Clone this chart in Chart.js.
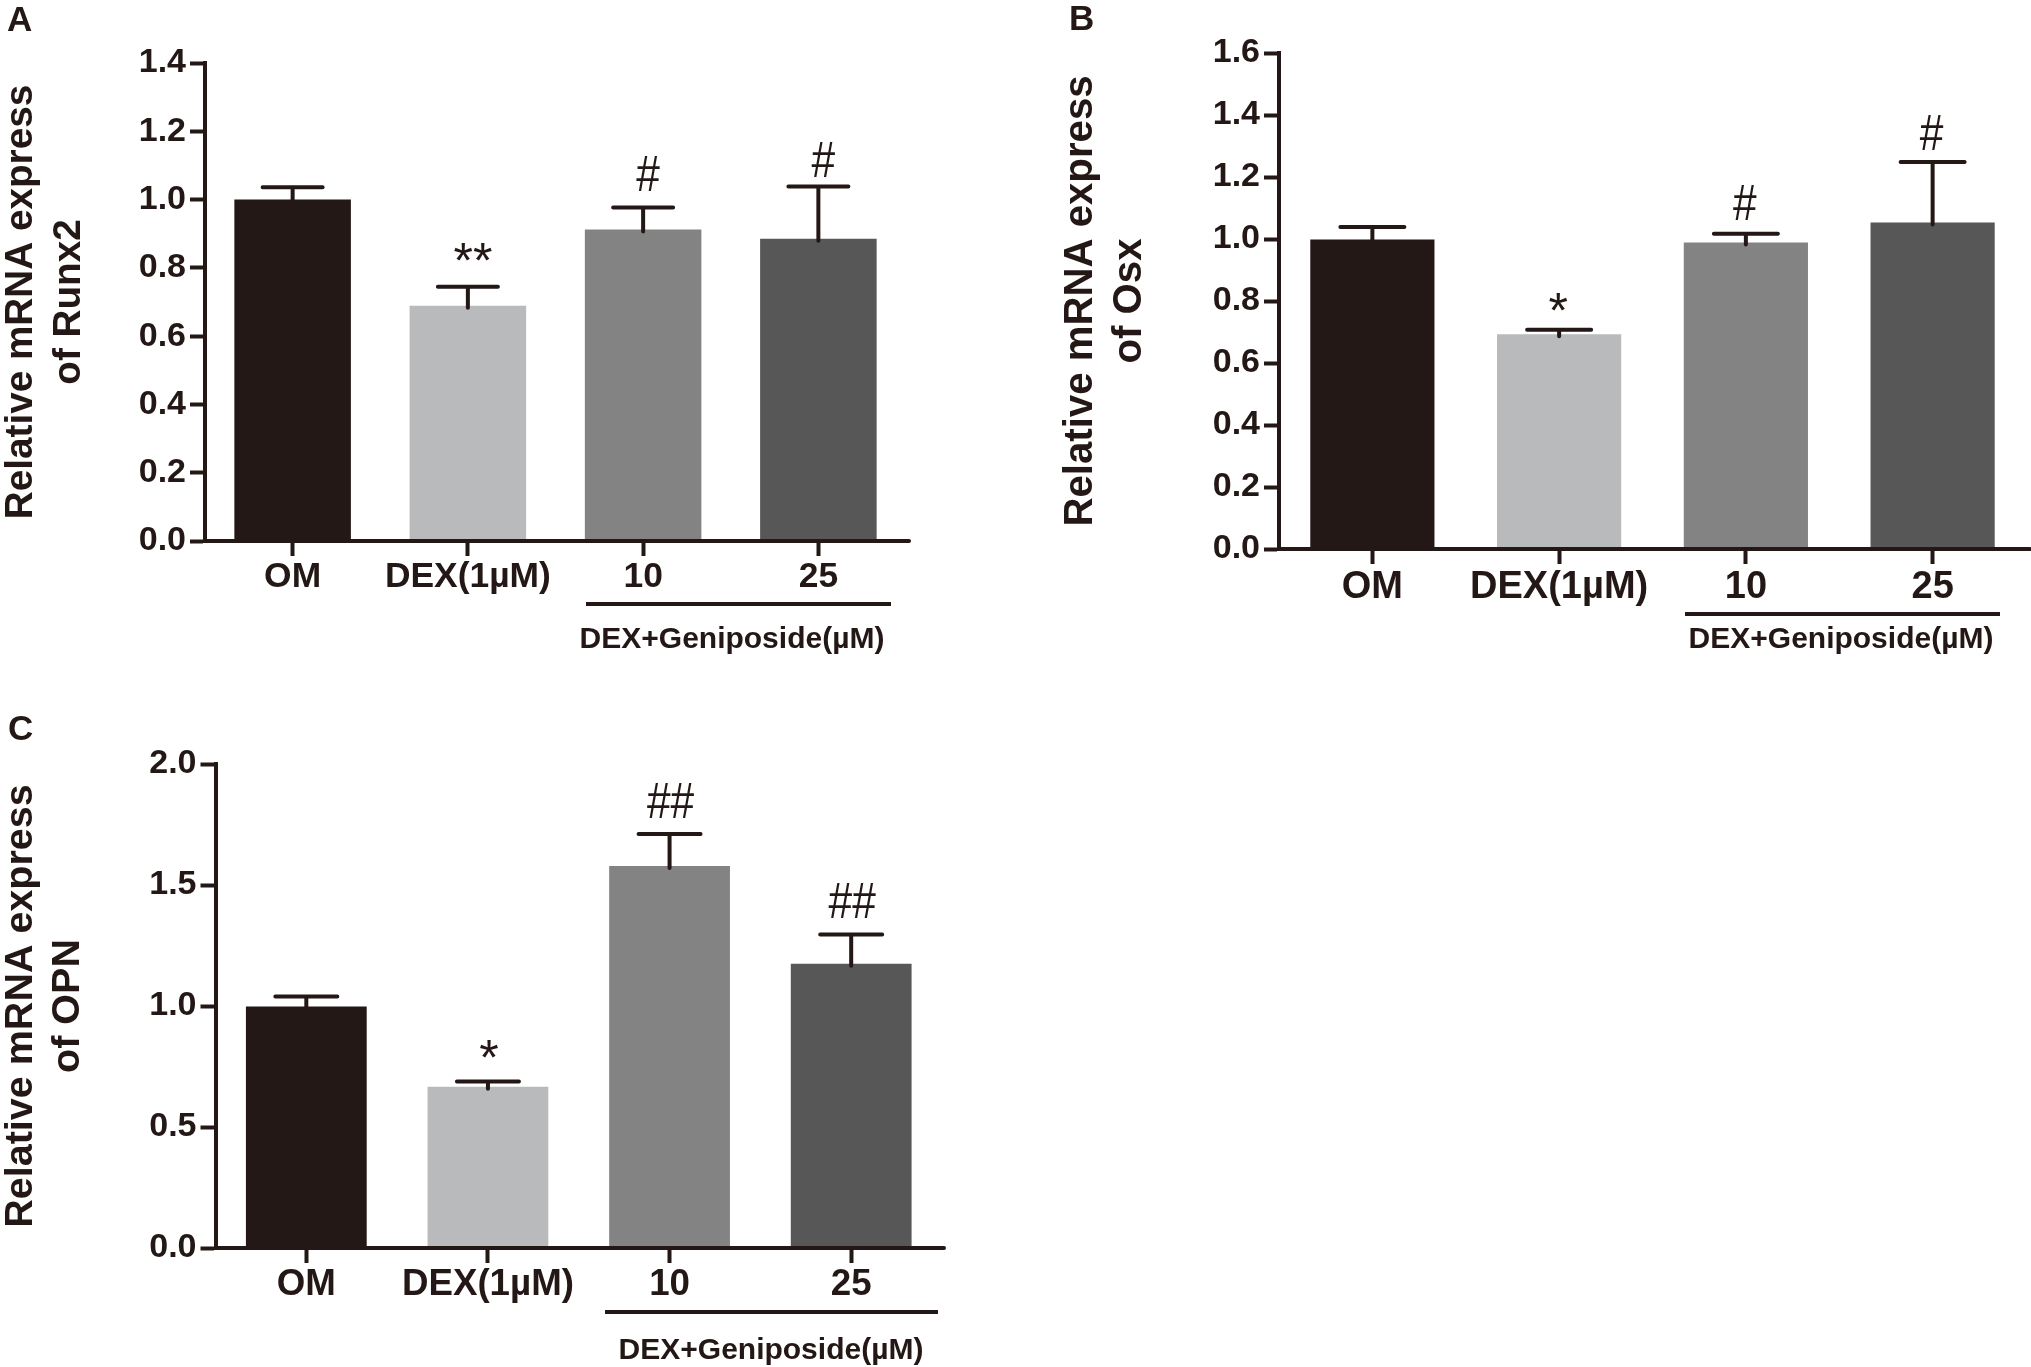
<!DOCTYPE html>
<html>
<head>
<meta charset="utf-8">
<style>
html,body{margin:0;padding:0;background:#fff;width:2031px;height:1367px;overflow:hidden}
canvas{position:absolute}
</style>
<script src="https://cdn.jsdelivr.net/npm/chart.js@4"></script>
</head>
<body>
<canvas id="a" style="left:0;top:0"></canvas>
<canvas id="b" style="left:1015px;top:0"></canvas>
<canvas id="c" style="left:0;top:690px"></canvas>
<script>
const categories = ['OM', 'DEX(1µM)', '10', '25'];
const groupLabel = 'DEX+Geniposide(µM)';

const runx2Values = [1.0, 0.689, 0.912, 0.885];
const runx2ErrorTop = [1.036, 0.745, 0.977, 1.038];
const runx2Marks = ['', '**', '#', '#'];
const runx2MarkLevel = [0, 0.847, 1.076, 1.117];

const osxValues = [0.998, 0.693, 0.989, 1.053];
const osxErrorTop = [1.039, 0.707, 1.017, 1.248];
const osxMarks = ['', '*', '#', '#'];
const osxMarkLevel = [0, 0.797, 1.119, 1.344];

const opnValues = [0.998, 0.666, 1.579, 1.175];
const opnErrorTop = [1.039, 0.688, 1.711, 1.295];
const opnMarks = ['', '*', '##', '##'];
const opnMarkLevel = [0, 0.821, 1.85, 1.436];

const barColors = ['#231815', '#b9babb', '#838383', '#585757'];
const ink = '#231815';
const FAMILY = '"Liberation Sans", Arial, sans-serif';

function panel(o) {
  const cv = document.getElementById(o.id);
  cv.width = o.w; cv.height = o.h;
  cv.style.width = o.w + 'px'; cv.style.height = o.h + 'px';
  const overlay = {
    id: 'overlay',
    afterDraw(chart) {
      const ctx = chart.ctx, xs = chart.scales.x, ys = chart.scales.y;
      ctx.save();
      ctx.strokeStyle = ink; ctx.fillStyle = ink; ctx.lineWidth = 4; ctx.lineCap = 'round';
      ctx.beginPath();
      ctx.moveTo(chart.chartArea.right - 2, ys.getPixelForValue(0));
      ctx.lineTo(o.axisEnd, ys.getPixelForValue(0));
      ctx.stroke();
      o.values.forEach((v, i) => {
        const x = xs.getPixelForValue(i), top = ys.getPixelForValue(o.err[i]), base = ys.getPixelForValue(v);
        ctx.beginPath();
        ctx.moveTo(x, base + 2); ctx.lineTo(x, top);
        ctx.moveTo(x - o.cap, top); ctx.lineTo(x + o.cap, top);
        ctx.stroke();
        const label = o.marks[i];
        if (label) {
          const squeeze = label[0] === '#' ? 0.85 : 1;
          ctx.font = '50px ' + FAMILY;
          ctx.textAlign = 'center'; ctx.textBaseline = 'alphabetic';
          const m = ctx.measureText(label);
          const cy = ys.getPixelForValue(o.level[i]);
          ctx.save();
          ctx.translate(x + o.markNudge, cy + (m.actualBoundingBoxAscent - m.actualBoundingBoxDescent) / 2);
          ctx.scale(squeeze, 1);
          ctx.fillText(label, 0, 0);
          ctx.restore();
        }
      });
      ctx.lineCap = 'butt';
      ctx.beginPath(); ctx.moveTo(o.line[0], o.line[2]); ctx.lineTo(o.line[1], o.line[2]); ctx.stroke();
      ctx.textAlign = 'center'; ctx.textBaseline = 'middle';
      ctx.font = 'bold ' + o.groupSize + 'px ' + FAMILY;
      ctx.fillText(groupLabel, o.group[0], o.group[1]);
      ctx.textAlign = 'left';
      ctx.font = 'bold 35px ' + FAMILY;
      ctx.fillText(o.letter, o.letterPos[0], o.letterPos[1]);
      ctx.restore();
    }
  };
  return new Chart(cv, {
    type: 'bar',
    data: {
      labels: categories,
      datasets: [{ data: o.values, backgroundColor: barColors, borderWidth: 0, barPercentage: 0.665, categoryPercentage: 1 }]
    },
    plugins: [overlay],
    options: {
      responsive: false, animation: false, devicePixelRatio: 1,
      layout: { padding: { left: 0, top: o.top, right: o.w - o.right, bottom: 0 } },
      plugins: { legend: { display: false }, tooltip: { enabled: false }, title: { display: false } },
      scales: {
        x: {
          type: 'category', offset: true,
          afterFit(s) { s.height = o.h - o.bottom; },
          border: { color: ink, width: 4, z: 1 },
          grid: { display: true, offset: false, drawOnChartArea: false, drawTicks: true, tickLength: 15, tickWidth: 4, tickColor: ink, z: 1 },
          ticks: { color: ink, padding: o.xPad, maxRotation: 0, font: { family: FAMILY, weight: 'bold', size: o.xSize } }
        },
        y: {
          min: 0, max: o.max,
          afterFit(s) { s.width = o.left; },
          border: { color: ink, width: 4, z: 1 },
          grid: { display: true, drawOnChartArea: false, drawTicks: true, tickLength: 15, tickWidth: 4, tickColor: ink, z: 1 },
          ticks: { color: ink, padding: 4, stepSize: o.step, callback: v => v.toFixed(1), font: { family: FAMILY, weight: 'bold', size: 34 } },
          title: {
            display: true, text: o.title, color: ink,
            padding: { top: o.titlePad, bottom: 0 },
            font: { family: FAMILY, weight: 'bold', size: o.titleSize, lineHeight: o.titleLine }
          }
        }
      }
    }
  });
}

panel({ id: 'a', w: 1015, h: 690, left: 205, right: 906, axisEnd: 909, top: 63, bottom: 541, max: 1.4, step: 0.2,
  values: runx2Values, err: runx2ErrorTop, marks: runx2Marks, level: runx2MarkLevel, markNudge: 5,
  title: ['Relative mRNA express', 'of Runx2'], titleSize: 38.7, titleLine: 48 / 38.7, titlePad: -3, xSize: 35.4, xPad: 0,
  cap: 30, line: [586, 891, 604], group: [732, 640], groupSize: 30, letter: 'A', letterPos: [7, 21] });

panel({ id: 'b', w: 1016, h: 690, left: 264, right: 1011, axisEnd: 1015, top: 53, bottom: 549, max: 1.6, step: 0.2,
  values: osxValues, err: osxErrorTop, marks: osxMarks, level: osxMarkLevel, markNudge: -1,
  title: ['Relative mRNA express', 'of Osx'], titleSize: 40.2, titleLine: 49 / 40.2, titlePad: 41, xSize: 38, xPad: 1,
  cap: 32, line: [670, 985, 614], group: [826, 640], groupSize: 30, letter: 'B', letterPos: [54, 20] });

panel({ id: 'c', w: 1015, h: 677, left: 215.5, right: 942, axisEnd: 944, top: 74, bottom: 558, max: 2.0, step: 0.5,
  values: opnValues, err: opnErrorTop, marks: opnMarks, level: opnMarkLevel, markNudge: 1,
  title: ['Relative mRNA express', 'of OPN'], titleSize: 39.5, titleLine: 47 / 39.5, titlePad: -2, xSize: 36.7, xPad: 0,
  cap: 31, line: [605, 938, 622], group: [771, 661], groupSize: 30, letter: 'C', letterPos: [8, 40] });
</script>
</body>
</html>
